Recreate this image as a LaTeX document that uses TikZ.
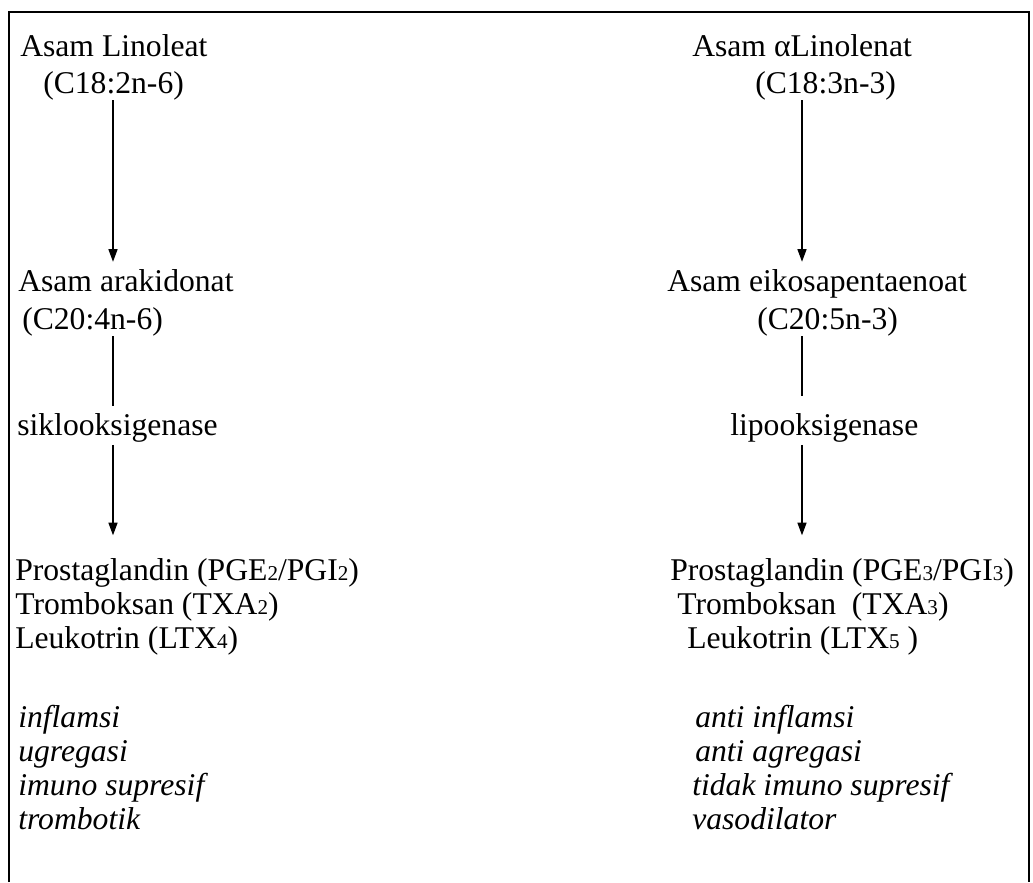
\documentclass[tikz,border=0pt]{standalone}
\usepackage{fontspec}
\setmainfont{Liberation Serif}
\usetikzlibrary{arrows.meta}

\newcommand{\dg}[1]{{\fontsize{15}{15}\selectfont #1}}

\begin{document}
\begin{tikzpicture}[x=0.025cm,y=-0.025cm,
  txt/.style={anchor=base west,inner sep=0pt,font=\fontsize{22.5}{27}\selectfont},
  eff/.style={txt,font=\fontsize{22.5}{27}\selectfont\itshape},
  arr/.style={line width=0.8pt,-{Triangle[length=9pt,width=6.5pt]}},
  ln/.style={line width=0.8pt}]
\useasboundingbox (0,0) rectangle (1033,882);
% frame
\draw[line width=1pt] (9,882) -- (9,12) -- (1029,12) -- (1029,882);

% left column
\coordinate (lcol) at (113,0);
\node[txt] (llin) at (20,56) {Asam Linoleat};
\node[txt] (lc18) at (43,93) {(C18:2n-6)};
\node[txt] (lara) at (18,291) {Asam arakidonat};
\node[txt] (lc20) at (22,329) {(C20:4n-6)};
\node[txt] (lenz) at (17,435) {siklooksigenase};
\node[txt] (lpg) at (15,580) {Prostaglandin (PGE\dg{2}/PGI\dg{2})};
\node[txt] (ltx) at (15,614) {Tromboksan (TXA\dg{2})};
\node[txt] (llt) at (15,648) {Leukotrin (LTX\dg{4})};
\node[eff] (le1) at (18,727) {inflamsi};
\node[eff] (le2) at (18,761) {ugregasi};
\node[eff] (le3) at (18,795) {imuno supresif};
\node[eff] (le4) at (18,829) {trombotik};

\draw[arr,shorten >=5pt] (lc18.south -| lcol) -- (lara.north -| lcol);
\draw[ln,shorten >=5pt] (lc20.south -| lcol) -- (lenz.north -| lcol);
\draw[arr,shorten <=2pt,shorten >=16pt] (lenz.south -| lcol) -- (lpg.north -| lcol);

% right column
\coordinate (rcol) at (802,0);
\node[txt] (rlin) at (692,56) {Asam αLinolenat};
\node[txt] (rc18) at (755,93) {(C18:3n-3)};
\node[txt] (reps) at (667,291) {Asam eikosapentaenoat};
\node[txt] (rc20) at (757,329) {(C20:5n-3)};
\node[txt] (renz) at (730,435) {lipooksigenase};
\node[txt] (rpg) at (670,580) {Prostaglandin (PGE\dg{3}/PGI\dg{3})};
\node[txt] (rtx) at (677,614) {Tromboksan\ \ (TXA\dg{3})};
\node[txt] (rlt) at (687,648) {Leukotrin (LTX\dg{5}\ )};
\node[eff] (re1) at (695,727) {anti inflamsi};
\node[eff] (re2) at (695,761) {anti agregasi};
\node[eff] (re3) at (692,795) {tidak imuno supresif};
\node[eff] (re4) at (692,829) {vasodilator};

\draw[arr,shorten >=5pt] (rc18.south -| rcol) -- (reps.north -| rcol);
\draw[ln,shorten >=12pt] (rc20.south -| rcol) -- (renz.north -| rcol);
\draw[arr,shorten <=2pt,shorten >=16pt] (renz.south -| rcol) -- (rpg.north -| rcol);
\end{tikzpicture}
\end{document}
